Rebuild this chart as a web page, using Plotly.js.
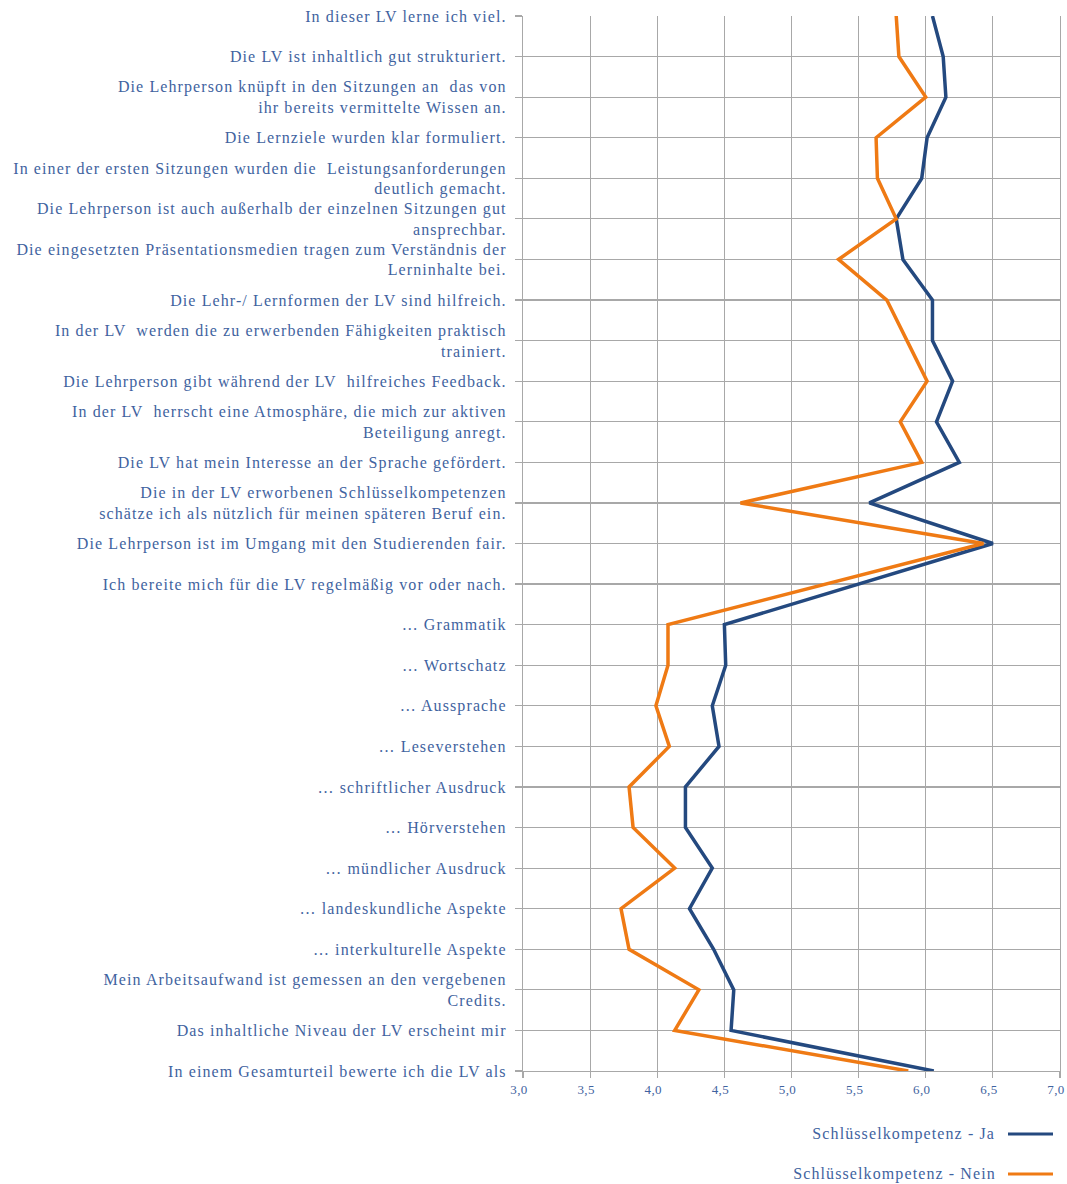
<!DOCTYPE html>
<html>
<head>
<meta charset="utf-8">
<script src="https://cdn.plot.ly/plotly-3.0.1.min.js"></script>
<style>
html,body{margin:0;padding:0;background:#fff;}
#chart{width:1067px;height:1184px;}
#chart .ytick text{letter-spacing:1.1px;}
#chart .xtick text{letter-spacing:0.4px;}
#chart .annotation-text{letter-spacing:1.1px;}
</style>
</head>
<body>
<div id="chart"></div>
<script>
var categories = [
  "In dieser LV lerne ich viel.",
  "Die LV ist inhaltlich gut strukturiert.",
  "Die Lehrperson knüpft in den Sitzungen an  das von<br>ihr bereits vermittelte Wissen an.",
  "Die Lernziele wurden klar formuliert.",
  "In einer der ersten Sitzungen wurden die  Leistungsanforderungen<br>deutlich gemacht.",
  "Die Lehrperson ist auch außerhalb der einzelnen Sitzungen gut<br>ansprechbar.",
  "Die eingesetzten Präsentationsmedien tragen zum Verständnis der<br>Lerninhalte bei.",
  "Die Lehr-/ Lernformen der LV sind hilfreich.",
  "In der LV  werden die zu erwerbenden Fähigkeiten praktisch<br>trainiert.",
  "Die Lehrperson gibt während der LV  hilfreiches Feedback.",
  "In der LV  herrscht eine Atmosphäre, die mich zur aktiven<br>Beteiligung anregt.",
  "Die LV hat mein Interesse an der Sprache gefördert.",
  "Die in der LV erworbenen Schlüsselkompetenzen<br>schätze ich als nützlich für meinen späteren Beruf ein.",
  "Die Lehrperson ist im Umgang mit den Studierenden fair.",
  "Ich bereite mich für die LV regelmäßig vor oder nach.",
  "… Grammatik",
  "… Wortschatz",
  "… Aussprache",
  "… Leseverstehen",
  "… schriftlicher Ausdruck",
  "… Hörverstehen",
  "… mündlicher Ausdruck",
  "… landeskundliche Aspekte",
  "… interkulturelle Aspekte",
  "Mein Arbeitsaufwand ist gemessen an den vergebenen<br>Credits.",
  "Das inhaltliche Niveau der LV erscheint mir",
  "In einem Gesamturteil bewerte ich die LV als"
];

var seriesJaName = "Schlüsselkompetenz - Ja";
var seriesNeinName = "Schlüsselkompetenz - Nein";

var valuesJa = [6.05, 6.13, 6.15, 6.01, 5.97, 5.78, 5.83, 6.05, 6.05, 6.2, 6.08, 6.25, 5.58, 6.5, null,
                4.5, 4.51, 4.41, 4.46, 4.21, 4.21, 4.41, 4.24, 4.42, 4.57, 4.55, 6.06];
var valuesNein = [5.78, 5.8, 6.0, 5.63, 5.64, 5.78, 5.35, 5.71, 5.86, 6.01, 5.81, 5.97, 4.62, 6.43, null,
                  4.08, 4.08, 3.99, 4.09, 3.79, 3.82, 4.13, 3.73, 3.79, 4.31, 4.13, 5.87];

var xTickVals = [3.0, 3.5, 4.0, 4.5, 5.0, 5.5, 6.0, 6.5, 7.0];

var colorJa = "#24497f";
var colorNein = "#ef7a14";
var textColor = "#3f63a0";
var gridColor = "#a8a8a8";
var fontFamily = "'Liberation Serif', 'DejaVu Serif', serif";

var traces = [
  {
    type: "scatter", mode: "lines", name: seriesJaName,
    x: valuesJa, y: categories, connectgaps: true,
    line: {color: colorJa, width: 3.5}, showlegend: false
  },
  {
    type: "scatter", mode: "lines", name: seriesNeinName,
    x: valuesNein, y: categories, connectgaps: true,
    line: {color: colorNein, width: 3.5}, showlegend: false
  }
];

var plotL = 523, plotR = 1060, plotT = 16, plotB = 1071;
function px(x){ return (x - plotL) / (plotR - plotL); }
function py(y){ return (plotB - y) / (plotB - plotT); }

var layout = {
  width: 1067, height: 1184,
  margin: {l: plotL, r: 1067 - plotR, t: plotT, b: 1184 - plotB, pad: 0},
  paper_bgcolor: "#ffffff", plot_bgcolor: "#ffffff",
  separators: ",.",
  font: {family: fontFamily, color: textColor, size: 16},
  xaxis: {
    range: [3, 7], tickvals: xTickVals, tickformat: ".1f",
    showgrid: true, gridcolor: gridColor, gridwidth: 1.2,
    showline: true, linecolor: gridColor, linewidth: 1.2,
    ticks: "outside", ticklen: 6, tickcolor: gridColor, tickwidth: 1.2,
    tickfont: {family: fontFamily, size: 13, color: textColor},
    ticklabelshift: -4,
    ticklabeloverflow: "allow",
    zeroline: false, fixedrange: true
  },
  yaxis: {
    type: "category", categoryorder: "array", categoryarray: categories,
    range: [categories.length - 1, 0],
    showgrid: true, gridcolor: gridColor, gridwidth: 1.2,
    showline: true, mirror: true, linecolor: gridColor, linewidth: 1.2,
    ticks: "outside", ticklen: 7, tickcolor: gridColor, tickwidth: 1.2,
    tickfont: {family: fontFamily, size: 16, color: textColor},
    ticklabelstandoff: 5,
    zeroline: false, fixedrange: true
  },
  annotations: [
    {xref: "paper", yref: "paper", x: px(984), y: py(1134), xanchor: "right", yanchor: "middle",
     text: seriesJaName, showarrow: false, font: {family: fontFamily, size: 16, color: textColor}},
    {xref: "paper", yref: "paper", x: px(984), y: py(1174), xanchor: "right", yanchor: "middle",
     text: seriesNeinName, showarrow: false, font: {family: fontFamily, size: 16, color: textColor}}
  ],
  shapes: [
    {type: "line", xref: "paper", yref: "paper", x0: px(1008), x1: px(1053), y0: py(1134), y1: py(1134),
     line: {color: colorJa, width: 3}},
    {type: "line", xref: "paper", yref: "paper", x0: px(1008), x1: px(1053), y0: py(1174), y1: py(1174),
     line: {color: colorNein, width: 3}}
  ]
};

Plotly.newPlot("chart", traces, layout, {displayModeBar: false, staticPlot: true});
</script>
</body>
</html>
